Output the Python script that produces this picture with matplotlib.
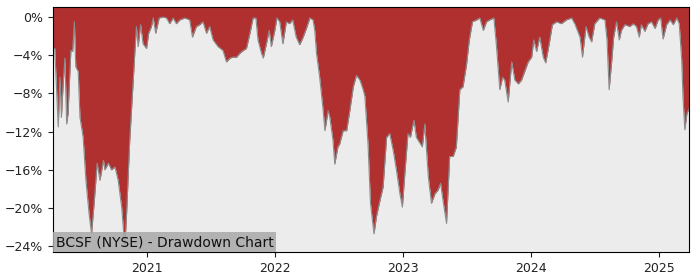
import matplotlib
matplotlib.use("Agg")
import matplotlib.pyplot as plt
import matplotlib.dates as mdates
from matplotlib.ticker import FuncFormatter
import pandas as pd

# drawdown readings (percent) taken off the reference chart
dates = [
    "2020-04-08", "2020-04-13", "2020-04-23", "2020-04-28", "2020-05-02", "2020-05-07",
    "2020-05-12", "2020-05-17", "2020-05-21", "2020-05-29", "2020-06-03", "2020-06-08",
    "2020-06-12", "2020-06-19", "2020-06-24", "2020-07-03", "2020-07-11", "2020-07-20",
    "2020-07-27", "2020-08-04", "2020-08-12", "2020-08-20", "2020-08-30", "2020-09-03",
    "2020-09-13", "2020-09-22", "2020-10-02", "2020-10-11", "2020-10-21", "2020-10-30",
    "2020-11-04", "2020-11-13", "2020-11-23", "2020-11-28", "2020-12-02", "2020-12-07",
    "2020-12-14", "2020-12-21", "2020-12-31", "2021-01-06", "2021-01-14", "2021-01-19",
    "2021-01-26", "2021-02-05", "2021-02-16", "2021-02-26", "2021-03-07", "2021-03-17",
    "2021-03-26", "2021-04-05", "2021-04-19", "2021-05-03", "2021-05-11", "2021-05-22",
    "2021-06-01", "2021-06-10", "2021-06-20", "2021-06-29", "2021-07-09", "2021-07-23",
    "2021-08-06", "2021-08-16", "2021-08-26", "2021-09-04", "2021-09-14", "2021-09-23",
    "2021-10-03", "2021-10-12", "2021-10-22", "2021-10-31", "2021-11-08", "2021-11-14",
    "2021-11-24", "2021-11-29", "2021-12-08", "2021-12-16", "2021-12-22", "2022-01-01",
    "2022-01-07", "2022-01-15", "2022-01-24", "2022-02-03", "2022-02-12", "2022-02-21",
    "2022-03-03", "2022-03-13", "2022-03-23", "2022-04-01", "2022-04-11", "2022-04-20",
    "2022-04-25", "2022-04-30", "2022-05-09", "2022-05-19", "2022-05-24", "2022-06-02",
    "2022-06-07", "2022-06-16", "2022-06-21", "2022-06-30", "2022-07-05", "2022-07-15",
    "2022-07-25", "2022-08-03", "2022-08-13", "2022-08-22", "2022-09-01", "2022-09-10",
    "2022-09-15", "2022-09-24", "2022-10-01", "2022-10-11", "2022-10-18", "2022-10-28",
    "2022-11-06", "2022-11-16", "2022-11-25", "2022-12-05", "2022-12-14", "2022-12-24",
    "2022-12-31", "2023-01-07", "2023-01-16", "2023-01-23", "2023-02-02", "2023-02-09",
    "2023-02-21", "2023-02-26", "2023-03-05", "2023-03-15", "2023-03-24", "2023-04-03",
    "2023-04-12", "2023-04-19", "2023-04-26", "2023-05-06", "2023-05-15", "2023-05-25",
    "2023-06-03", "2023-06-13", "2023-06-22", "2023-07-02", "2023-07-10", "2023-07-19",
    "2023-07-31", "2023-08-09", "2023-08-19", "2023-08-28", "2023-09-06", "2023-09-18",
    "2023-09-25", "2023-10-05", "2023-10-13", "2023-10-19", "2023-10-29", "2023-11-08",
    "2023-11-17", "2023-11-27", "2023-12-06", "2023-12-15", "2023-12-25", "2024-01-04",
    "2024-01-10", "2024-01-18", "2024-01-27", "2024-02-06", "2024-02-13", "2024-02-23",
    "2024-03-03", "2024-03-15", "2024-03-29", "2024-04-12", "2024-04-27", "2024-05-06",
    "2024-05-21", "2024-05-28", "2024-06-07", "2024-06-16", "2024-06-23", "2024-07-02",
    "2024-07-16", "2024-07-31", "2024-08-06", "2024-08-12", "2024-08-19", "2024-08-25",
    "2024-09-02", "2024-09-10", "2024-09-16", "2024-09-26", "2024-10-10", "2024-10-20",
    "2024-10-29", "2024-11-06", "2024-11-12", "2024-11-22", "2024-12-01", "2024-12-11",
    "2024-12-21", "2024-12-30", "2025-01-06", "2025-01-13", "2025-01-23", "2025-02-02",
    "2025-02-11", "2025-02-21", "2025-02-28", "2025-03-07", "2025-03-11", "2025-03-16",
    "2025-03-22", "2025-03-28",
]
drawdown = [
    -3.3, -3.3, -11.5, -6.3, -10.5, -7.0,
    -4.3, -11.2, -10.1, -3.5, -3.6, -0.5,
    -5.2, -5.7, -10.5, -12.6, -17.1, -20.6,
    -22.7, -19.2, -15.3, -17.1, -15.0, -16.0,
    -15.3, -16.0, -15.7, -17.1, -19.9, -24.1,
    -20.6, -12.9, -6.6, -3.3, -1.0, -3.1,
    -0.8, -2.8, -3.3, -1.7, -1.0, -0.1,
    -1.7, -0.1, 0.0, -0.1, -0.7, -0.1,
    -0.7, -0.3, -0.1, -0.3, -2.1, -1.0,
    -0.8, -0.5, -1.7, -1.0, -2.4, -3.1,
    -3.5, -4.7, -4.3, -4.2, -4.2, -3.8,
    -3.5, -3.3, -1.7, -0.1, -0.1, -2.4,
    -3.8, -4.3, -2.8, -1.4, -3.1, -1.4,
    -0.1, -0.5, -2.8, -0.5, -0.7, -0.3,
    -2.1, -2.9, -2.1, -1.2, -0.1, -0.3,
    -1.4, -3.8, -6.3, -9.8, -11.9, -9.8,
    -10.5, -12.9, -15.4, -13.6, -13.3, -11.9,
    -11.9, -9.8, -7.3, -6.1, -6.6, -7.6,
    -8.3, -13.3, -19.5, -22.7, -20.9, -19.2,
    -17.8, -12.6, -12.2, -14.0, -16.0, -18.5,
    -19.9, -16.4, -12.2, -12.6, -10.8, -12.6,
    -13.3, -13.6, -11.2, -16.7, -19.5, -18.5,
    -18.1, -17.4, -19.2, -21.6, -14.6, -14.6,
    -13.6, -7.6, -7.3, -5.0, -2.4, -0.5,
    -0.3, -0.1, -1.4, -0.5, -0.3, -0.1,
    -2.8, -7.6, -6.3, -6.6, -8.9, -4.7,
    -6.6, -7.0, -6.6, -5.7, -4.7, -4.2,
    -2.4, -3.6, -2.1, -4.2, -4.8, -2.8,
    -0.8, -0.5, -0.7, -0.3, -0.1, -0.7,
    -2.1, -4.2, -1.0, -2.1, -2.6, -0.7,
    -0.1, -0.3, -2.4, -7.6, -4.8, -2.1,
    -0.5, -2.4, -1.4, -0.8, -1.0, -0.7,
    -1.0, -2.1, -0.8, -1.5, -0.7, -0.5,
    -1.2, -0.3, -0.1, -2.3, -0.8, -0.3,
    -0.8, -0.1, -0.7, -4.4, -8.5, -11.8,
    -10.1, -9.6,
]
ytick_values = [0, -4, -8, -12, -16, -20, -24]

dates = pd.to_datetime(dates)

fig = plt.figure(figsize=(7, 2.8), dpi=100)
ax = fig.add_axes([0.0757, 0.1, 0.9086, 0.875])
ax.set_facecolor("#ececec")

top = 1.05
ax.fill_between(dates, drawdown, top, color="#b03030", linewidth=0)
ax.plot(dates, drawdown, color="#8c8c8c", linewidth=0.8)

ax.set_xlim(dates[0], dates[-1])
ax.set_ylim(-24.6, top)
ax.set_yticks(ytick_values)
ax.yaxis.set_major_formatter(FuncFormatter(lambda v, p: f"{v:.0f}%".replace("-", "\u2212")))
ax.xaxis.set_major_locator(mdates.YearLocator())
ax.xaxis.set_major_formatter(mdates.DateFormatter("%Y"))
ax.tick_params(axis="both", labelsize=9, colors="#222222")

ax.text(0.004, 0.012, "BCSF (NYSE) - Drawdown Chart", transform=ax.transAxes,
        fontsize=10, color="#111111", va="bottom", ha="left",
        bbox=dict(facecolor="#a8a8a8", alpha=0.85, edgecolor="none", pad=2))

fig.savefig("out.png", dpi=100)
